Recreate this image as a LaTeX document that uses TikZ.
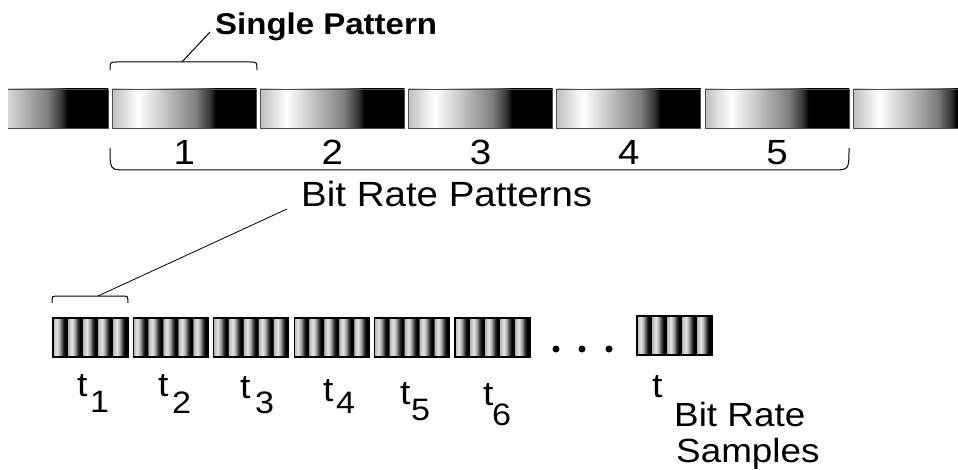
\documentclass[tikz,border=0pt]{standalone}
\usepackage{fontspec}
\setmainfont{Liberation Sans}[FakeStretch=1.1]
\usetikzlibrary{calc}
% one pattern period: light grey, white, fading to black
\pgfdeclarehorizontalshading{patshade}{100bp}{color(0bp)=(black!25); color(25bp)=(black!25); color(34bp)=(white); color(44bp)=(black!25); color(54bp)=(black!50); color(59bp)=(black!80); color(61bp)=(black); color(100bp)=(black)}
% five short periods for one sample
\pgfdeclarehorizontalshading{smpshade}{100bp}{color(0bp)=(black!30); color(25bp)=(black!30);
  color(27.5bp)=(black!10); color(29.5bp)=(black!35); color(31.5bp)=(black!80); color(33bp)=(black); color(34.8bp)=(black);
  color(35bp)=(black!30); color(37.5bp)=(black!10); color(39.5bp)=(black!35); color(41.5bp)=(black!80); color(43bp)=(black); color(44.8bp)=(black);
  color(45bp)=(black!30); color(47.5bp)=(black!10); color(49.5bp)=(black!35); color(51.5bp)=(black!80); color(53bp)=(black); color(54.8bp)=(black);
  color(55bp)=(black!30); color(57.5bp)=(black!10); color(59.5bp)=(black!35); color(61.5bp)=(black!80); color(63bp)=(black); color(64.8bp)=(black);
  color(65bp)=(black!30); color(67.5bp)=(black!10); color(69.5bp)=(black!35); color(71.5bp)=(black!80); color(73bp)=(black); color(75bp)=(black);
  color(100bp)=(black)}
\tikzset{
  patbox/.style={draw=black!70, line width=0.8pt, shade, shading=patshade,
    minimum width=144pt, minimum height=39pt, inner sep=0pt},
  smpbox/.style={draw=black, line width=1.2pt, shade, shading=smpshade,
    minimum width=75pt, minimum height=39pt, inner sep=0pt},
  lbl/.style={inner sep=0pt, anchor=base west},
  brk/.style={line width=1pt}
}
\begin{document}
\begin{tikzpicture}[x=1pt,y=-1pt]
  \useasboundingbox (0,0) rectangle (958,470);
  % row of patterns
  \begin{scope}
    \clip (8,80) rectangle (958,140);
    \foreach \i in {0,...,6}
      \node[patbox] (p\i) at (184.25+148.2*\i-148.2,108.5) {};
  \end{scope}
  \foreach \i in {1,...,5}
    \node[lbl, anchor=base, font=\fontsize{35}{35}\selectfont] (n\i) at (184.25+148.2*\i-148.2,165) {\i};
  % single pattern bracket
  \coordinate (sbk) at (182,62);
  \draw[brk] (110,70) .. controls (110,62) .. (117,62) -- (250,62) .. controls (257,62) .. (257,70);
  \node[lbl, font=\bfseries\fontsize{30}{30}\selectfont] (single) at (215,35) {Single Pattern};
  \draw[brk] (sbk) -- ($(single.base west)+(-5,-3)$);
  % bit rate patterns bracket
  \draw[brk] (110,148) .. controls (110,170) .. (127,170) -- (832,170) .. controls (849,170) .. (849,148);
  \node[lbl, font=\fontsize{35}{35}\selectfont] (brp) at (301,207) {Bit Rate Patterns};
  % samples
  \foreach \i in {1,...,6}
    \node[smpbox] (s\i) at (90.5+80.4*\i-80.4,337.5) {};
  \node[smpbox] (sn) at (674.5,335.5) {};
  \foreach \x in {556,582,609}
    \fill (\x,349) circle (3.5);
  \coordinate (tbk) at (98,296);
  \draw[brk] (52,303) .. controls (52,296) .. (58,296) -- (122,296) .. controls (128,296) .. (128,303);
  \draw[line width=0.8pt] ($(brp.base west)+(-14,2)$) -- (tbk);
  % sample labels
  \foreach \i/\tx/\ty/\sx/\sy in {1/77/396/90/412, 2/158/396/172/413, 3/240/398/255/413,
      4/323/401/336/413, 5/400/404/411/420, 6/483/405/492/425} {
    \node[lbl, font=\fontsize{34}{34}\selectfont] (t\i) at (\tx,\ty) {t};
    \node[lbl, font=\fontsize{31}{31}\selectfont] (ts\i) at (\sx,\sy) {\i};
  }
  \node[lbl, font=\fontsize{34}{34}\selectfont] (tn) at (652,397) {t};
  \node[lbl, font=\fontsize{33.5}{33.5}\selectfont] (brs) at (674,426) {Bit Rate};
  \node[lbl, font=\fontsize{33.5}{33.5}\selectfont] (smp) at (676,462) {Samples};
\end{tikzpicture}
\end{document}
